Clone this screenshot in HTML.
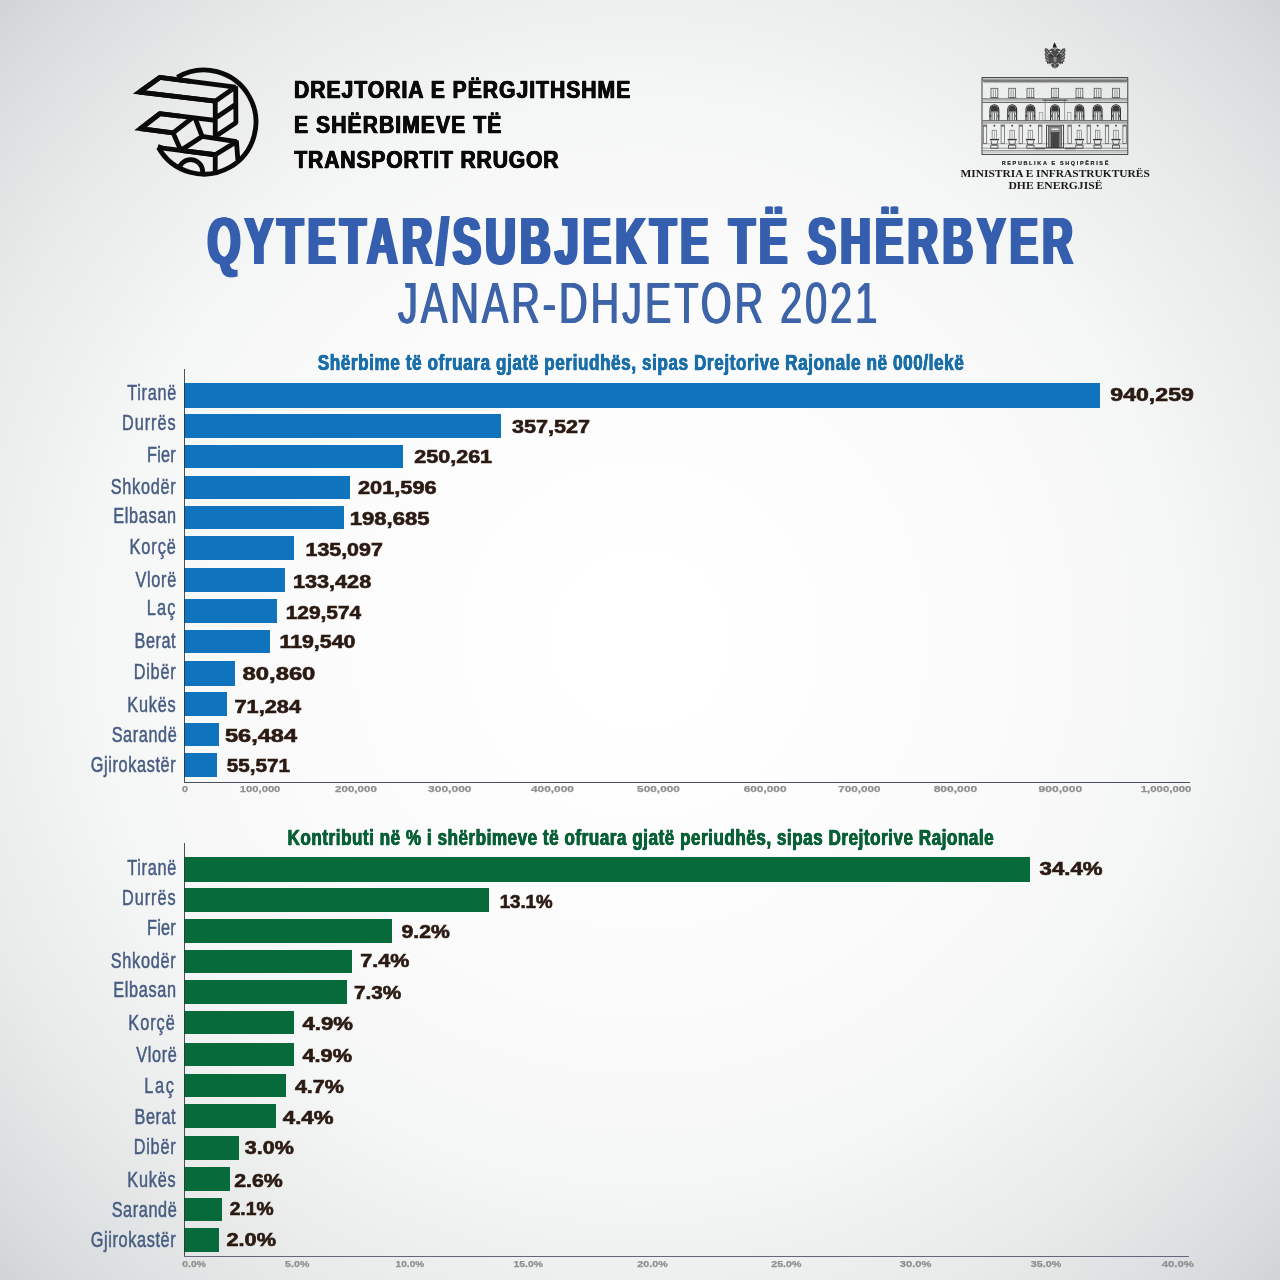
<!DOCTYPE html>
<html lang="sq">
<head>
<meta charset="utf-8">
<title>Qytetar/Subjekte të shërbyer Janar-Dhjetor 2021</title>
<style>
html,body{margin:0;padding:0;}
body{width:1280px;height:1280px;overflow:hidden;background:#f3f4f5;}
#page{position:relative;width:1280px;height:1280px;overflow:hidden;
  background:radial-gradient(circle 905px at 640px 640px, #ffffff 0%, #ffffff 9%, #fdfdfd 22%, #fbfbfb 39%, #f5f6f6 60%, #eeefef 70%, #e9ebeb 78%, #dfe2e2 88%, #d7dbdc 95%, #d0d4d6 100%);}
.t{position:absolute;left:0;white-space:nowrap;line-height:1;transform-origin:0 0;font-family:'Liberation Sans',sans-serif;margin:0;padding:0;}
.hd{font-weight:bold;color:#0a0a0a;}
.rep{font-weight:bold;color:#222222;}
.min{font-weight:bold;color:#1a1a1a;font-family:'Liberation Serif',serif;}
.title{font-weight:bold;color:#355fae;}
.sub{color:#3d63a8;}
.ct1{font-weight:bold;color:#1b6fa9;}
.ct2{font-weight:bold;color:#0a6036;}
.lab{color:#475c82;}
.val{font-weight:bold;color:#2b1a12;}
.tick{font-weight:bold;color:#8f8f8f;}
.bar{position:absolute;}
.b1{background:#1073bd;}
.b2{background:#076a3b;}
.axis{position:absolute;}
.a1v{left:184px;top:369px;width:1px;height:414px;background:rgba(45,50,60,0.85);}
.a1h{left:184px;top:781.9px;width:1006px;height:1.1px;background:#4a4f5a;}
.a2v{left:184px;top:843.4px;width:1px;height:413.6px;background:rgba(45,50,60,0.85);}
.a2h{left:184px;top:1256px;width:1005px;height:1.1px;background:#63667e;}
svg{position:absolute;left:0;top:0;}
.hd{-webkit-text-stroke:0.5px #0a0a0a;text-shadow:0.55px 0 0 #0a0a0a,-0.55px 0 0 #0a0a0a;}
.rep{-webkit-text-stroke:0.2px #222222;}
.title{text-shadow:1.50px 0 0 #355fae,-1.50px 0 0 #355fae,3.00px 0 0 #355fae,-3.00px 0 0 #355fae;}
.sub{text-shadow:1.00px 0 0 #3d63a8,-1.00px 0 0 #3d63a8;}
.ct1{-webkit-text-stroke:0.4px #1b6fa9;text-shadow:0.45px 0 0 #1b6fa9,-0.45px 0 0 #1b6fa9;}
.ct2{-webkit-text-stroke:0.4px #0a6036;text-shadow:0.45px 0 0 #0a6036,-0.45px 0 0 #0a6036;}
.lab{-webkit-text-stroke:0.5px #475c82;}
.val{-webkit-text-stroke:0.6px #2b1a12;}
.tick{-webkit-text-stroke:0.25px #8f8f8f;}

</style>
</head>
<body>
<div id="page">
<svg id="logo" width="1280" height="200" viewBox="0 0 1280 200" aria-label="DPSHTRR logo">
<defs><clipPath id="lc"><circle cx="721" cy="611" r="476"/></clipPath></defs>
<g transform="translate(125,55) scale(0.109375)" fill="none" stroke="#0a0a0a" stroke-width="44" stroke-linejoin="bevel" stroke-linecap="butt">
  <path d="M478 204 A476 476 0 1 1 306 846"/>
  <circle cx="600" cy="1066" r="110" clip-path="url(#lc)"/>
  <path d="M130 340 L318 205 L1010 293 L825 422 Z"/>
  <path d="M825 422 L130 340 L318 205 L600 241" stroke-linejoin="miter" stroke-miterlimit="10"/>
  <path d="M1012 286 L1014 620 L825 745 M825 410 L825 745 M825 578 L1013 450"/>
  <path d="M825 598 L318 537 L140 674 L440 712 L612 577"/>
  <path d="M440 712 L140 674 L318 537 L500 559" stroke-linejoin="miter" stroke-miterlimit="10"/>
  <path d="M440 712 L510 872 L705 745 L641 578"/>
  <path d="M705 745 L1020 792 L825 912 L510 872"/>
  <path d="M825 912 L345 851 L300 838" stroke-linecap="butt"/>
  <path d="M825 900 L825 1078 M1018 780 L1032 960"/>
</g>
</svg>

<svg id="ministry" width="1280" height="200" viewBox="0 0 1280 200" aria-label="Ministria e Infrastrukturës dhe Energjisë">
<g fill="none" stroke="#2e2e2e" stroke-width="0.7">
<rect x="982.0" y="77.6" width="145.8" height="76.8" stroke-width="0.9"/>
<path d="M982.0 79.2H1127.8" stroke-width="0.6"/>
<path d="M982.8 80.9H1127.0" stroke-width="1.5" stroke="#555"/>
<path d="M983.5 82.6H1126.3" stroke-width="0.5" stroke="#777"/>
<path d="M982.5 98.9H1127.3" stroke-width="0.8" stroke="#333"/>
<path d="M982.5 100.6H1127.3" stroke-width="0.5" stroke="#777"/>
<path d="M982.5 102.4H1127.3" stroke-width="0.8" stroke="#333"/>
<path d="M982.5 120.8H1127.3" stroke-width="0.9" stroke="#2a2a2a"/>
<path d="M982.5 122.9H1127.3" stroke-width="0.7" stroke="#444"/>
<path d="M982.5 143.8H1127.3" stroke-width="0.5" stroke="#666"/>
<path d="M982.5 148.2H1127.3" stroke-width="0.6" stroke="#555"/>
<path d="M982.5 150.8H1127.3" stroke-width="0.7" stroke="#444"/>
<path d="M982.5 152.6H1127.3" stroke-width="0.4" stroke="#888"/>
<rect x="991" y="88.3" width="6.8" height="9.2" stroke="#555" stroke-width="0.8"/>
<path d="M993.3 89.2V97 M995.5 89.2V97" stroke="#666" stroke-width="0.6"/>
<path d="M990 97.8H998.8" stroke="#555" stroke-width="0.7"/>
<rect x="1008.8" y="88.3" width="6.8" height="9.2" stroke="#555" stroke-width="0.8"/>
<path d="M1011.1 89.2V97 M1013.3 89.2V97" stroke="#666" stroke-width="0.6"/>
<path d="M1007.8 97.8H1016.6" stroke="#555" stroke-width="0.7"/>
<rect x="1027" y="88.3" width="6.8" height="9.2" stroke="#555" stroke-width="0.8"/>
<path d="M1029.3 89.2V97 M1031.5 89.2V97" stroke="#666" stroke-width="0.6"/>
<path d="M1026 97.8H1034.8" stroke="#555" stroke-width="0.7"/>
<rect x="1051.6" y="88.3" width="6.8" height="9.2" stroke="#555" stroke-width="0.8"/>
<path d="M1053.9 89.2V97 M1056.1 89.2V97" stroke="#666" stroke-width="0.6"/>
<path d="M1050.6 97.8H1059.4" stroke="#555" stroke-width="0.7"/>
<rect x="1076" y="88.3" width="6.8" height="9.2" stroke="#555" stroke-width="0.8"/>
<path d="M1078.3 89.2V97 M1080.5 89.2V97" stroke="#666" stroke-width="0.6"/>
<path d="M1075 97.8H1083.8" stroke="#555" stroke-width="0.7"/>
<rect x="1094.2" y="88.3" width="6.8" height="9.2" stroke="#555" stroke-width="0.8"/>
<path d="M1096.5 89.2V97 M1098.7 89.2V97" stroke="#666" stroke-width="0.6"/>
<path d="M1093.2 97.8H1102" stroke="#555" stroke-width="0.7"/>
<rect x="1112.6" y="88.3" width="6.8" height="9.2" stroke="#555" stroke-width="0.8"/>
<path d="M1114.9 89.2V97 M1117.1 89.2V97" stroke="#666" stroke-width="0.6"/>
<path d="M1111.6 97.8H1120.4" stroke="#555" stroke-width="0.7"/>
<path d="M990 120.3V109.4A4.4 4.6 0 0 1 998.8 109.4V120.3" stroke="#2a2a2a" stroke-width="1.1"/>
<path d="M990.7 111.4V109.4A3.7 3.9 0 0 1 998.1 109.4V111.4Z" fill="#3a3a3a" stroke="none"/>
<path d="M990 112H998.8" stroke="#333" stroke-width="0.6"/>
<path d="M992 112.5V120 M994.4 112.5V120 M996.8 112.5V120" stroke="#333" stroke-width="0.8"/>
<path d="M989.6 116H991.2 M997.6 116H999.2" stroke="#444" stroke-width="2.4"/>
<path d="M1007.8 120.3V109.4A4.4 4.6 0 0 1 1016.6 109.4V120.3" stroke="#2a2a2a" stroke-width="1.1"/>
<path d="M1008.5 111.4V109.4A3.7 3.9 0 0 1 1015.9 109.4V111.4Z" fill="#3a3a3a" stroke="none"/>
<path d="M1007.8 112H1016.6" stroke="#333" stroke-width="0.6"/>
<path d="M1009.8 112.5V120 M1012.2 112.5V120 M1014.6 112.5V120" stroke="#333" stroke-width="0.8"/>
<path d="M1007.4 116H1009 M1015.4 116H1017" stroke="#444" stroke-width="2.4"/>
<path d="M1026 120.3V109.4A4.4 4.6 0 0 1 1034.8 109.4V120.3" stroke="#2a2a2a" stroke-width="1.1"/>
<path d="M1026.7 111.4V109.4A3.7 3.9 0 0 1 1034.1 109.4V111.4Z" fill="#3a3a3a" stroke="none"/>
<path d="M1026 112H1034.8" stroke="#333" stroke-width="0.6"/>
<path d="M1028 112.5V120 M1030.4 112.5V120 M1032.8 112.5V120" stroke="#333" stroke-width="0.8"/>
<path d="M1025.6 116H1027.2 M1033.6 116H1035.2" stroke="#444" stroke-width="2.4"/>
<path d="M1050.6 120.3V109.4A4.4 4.6 0 0 1 1059.4 109.4V120.3" stroke="#2a2a2a" stroke-width="1.1"/>
<path d="M1051.3 111.4V109.4A3.7 3.9 0 0 1 1058.7 109.4V111.4Z" fill="#3a3a3a" stroke="none"/>
<path d="M1050.6 112H1059.4" stroke="#333" stroke-width="0.6"/>
<path d="M1052.6 112.5V120 M1055 112.5V120 M1057.4 112.5V120" stroke="#333" stroke-width="0.8"/>
<path d="M1050.2 116H1051.8 M1058.2 116H1059.8" stroke="#444" stroke-width="2.4"/>
<path d="M1075 120.3V109.4A4.4 4.6 0 0 1 1083.8 109.4V120.3" stroke="#2a2a2a" stroke-width="1.1"/>
<path d="M1075.7 111.4V109.4A3.7 3.9 0 0 1 1083.1 109.4V111.4Z" fill="#3a3a3a" stroke="none"/>
<path d="M1075 112H1083.8" stroke="#333" stroke-width="0.6"/>
<path d="M1077 112.5V120 M1079.4 112.5V120 M1081.8 112.5V120" stroke="#333" stroke-width="0.8"/>
<path d="M1074.6 116H1076.2 M1082.6 116H1084.2" stroke="#444" stroke-width="2.4"/>
<path d="M1093.2 120.3V109.4A4.4 4.6 0 0 1 1102 109.4V120.3" stroke="#2a2a2a" stroke-width="1.1"/>
<path d="M1093.9 111.4V109.4A3.7 3.9 0 0 1 1101.3 109.4V111.4Z" fill="#3a3a3a" stroke="none"/>
<path d="M1093.2 112H1102" stroke="#333" stroke-width="0.6"/>
<path d="M1095.2 112.5V120 M1097.6 112.5V120 M1100 112.5V120" stroke="#333" stroke-width="0.8"/>
<path d="M1092.8 116H1094.4 M1100.8 116H1102.4" stroke="#444" stroke-width="2.4"/>
<path d="M1111.6 120.3V109.4A4.4 4.6 0 0 1 1120.4 109.4V120.3" stroke="#2a2a2a" stroke-width="1.1"/>
<path d="M1112.3 111.4V109.4A3.7 3.9 0 0 1 1119.7 109.4V111.4Z" fill="#3a3a3a" stroke="none"/>
<path d="M1111.6 112H1120.4" stroke="#333" stroke-width="0.6"/>
<path d="M1113.6 112.5V120 M1116 112.5V120 M1118.4 112.5V120" stroke="#333" stroke-width="0.8"/>
<path d="M1111.2 116H1112.8 M1119.2 116H1120.8" stroke="#444" stroke-width="2.4"/>
<path d="M1045.2 98.9V120.6 M1064.6 98.9V120.6" stroke="#666" stroke-width="0.6"/>
<path d="M1042.5 100.2H1067.3" stroke="#444" stroke-width="1"/>
<rect x="1039.2" y="112.6" width="3.6" height="7.8" stroke="#888" stroke-width="0.6"/>
<rect x="1067.4" y="112.6" width="3.6" height="7.8" stroke="#888" stroke-width="0.6"/>
<rect x="983.3" y="126.2" width="3.4" height="17.2" stroke="#555" stroke-width="0.7"/>
<path d="M982.8 125.2H987.2" stroke="#444" stroke-width="1"/>
<rect x="1001.1" y="126.2" width="3.4" height="17.2" stroke="#555" stroke-width="0.7"/>
<path d="M1000.6 125.2H1005" stroke="#444" stroke-width="1"/>
<rect x="1019.1" y="126.2" width="3.4" height="17.2" stroke="#555" stroke-width="0.7"/>
<path d="M1018.6 125.2H1023" stroke="#444" stroke-width="1"/>
<rect x="1038.5" y="126.2" width="3.4" height="17.2" stroke="#555" stroke-width="0.7"/>
<path d="M1038 125.2H1042.4" stroke="#444" stroke-width="1"/>
<rect x="1067.9" y="126.2" width="3.4" height="17.2" stroke="#555" stroke-width="0.7"/>
<path d="M1067.4 125.2H1071.8" stroke="#444" stroke-width="1"/>
<rect x="1087.1" y="126.2" width="3.4" height="17.2" stroke="#555" stroke-width="0.7"/>
<path d="M1086.6 125.2H1091" stroke="#444" stroke-width="1"/>
<rect x="1105.3" y="126.2" width="3.4" height="17.2" stroke="#555" stroke-width="0.7"/>
<path d="M1104.8 125.2H1109.2" stroke="#444" stroke-width="1"/>
<rect x="1122.9" y="126.2" width="3.4" height="17.2" stroke="#555" stroke-width="0.7"/>
<path d="M1122.4 125.2H1126.8" stroke="#444" stroke-width="1"/>
<circle cx="994.4" cy="125.7" r="0.9" fill="#333" stroke="none"/>
<rect x="992.1" y="130.2" width="4.6" height="9" stroke="#666" stroke-width="0.6"/>
<path d="M994.4 130.4V139" stroke="#777" stroke-width="0.5"/>
<path d="M989.8 139.6H999" stroke="#333" stroke-width="1.3"/>
<path d="M991 140.4L991.8 144.6H997L997.8 140.4" stroke="#444" stroke-width="0.8"/>
<rect x="990.8" y="145.2" width="7.2" height="3" stroke="#444" stroke-width="0.8"/>
<circle cx="1012.2" cy="125.7" r="0.9" fill="#333" stroke="none"/>
<rect x="1009.9" y="130.2" width="4.6" height="9" stroke="#666" stroke-width="0.6"/>
<path d="M1012.2 130.4V139" stroke="#777" stroke-width="0.5"/>
<path d="M1007.6 139.6H1016.8" stroke="#333" stroke-width="1.3"/>
<path d="M1008.8 140.4L1009.6 144.6H1014.8L1015.6 140.4" stroke="#444" stroke-width="0.8"/>
<rect x="1008.6" y="145.2" width="7.2" height="3" stroke="#444" stroke-width="0.8"/>
<circle cx="1030.4" cy="125.7" r="0.9" fill="#333" stroke="none"/>
<rect x="1028.1" y="130.2" width="4.6" height="9" stroke="#666" stroke-width="0.6"/>
<path d="M1030.4 130.4V139" stroke="#777" stroke-width="0.5"/>
<path d="M1025.8 139.6H1035" stroke="#333" stroke-width="1.3"/>
<path d="M1027 140.4L1027.8 144.6H1033L1033.8 140.4" stroke="#444" stroke-width="0.8"/>
<rect x="1026.8" y="145.2" width="7.2" height="3" stroke="#444" stroke-width="0.8"/>
<circle cx="1079.4" cy="125.7" r="0.9" fill="#333" stroke="none"/>
<rect x="1077.1" y="130.2" width="4.6" height="9" stroke="#666" stroke-width="0.6"/>
<path d="M1079.4 130.4V139" stroke="#777" stroke-width="0.5"/>
<path d="M1074.8 139.6H1084" stroke="#333" stroke-width="1.3"/>
<path d="M1076 140.4L1076.8 144.6H1082L1082.8 140.4" stroke="#444" stroke-width="0.8"/>
<rect x="1075.8" y="145.2" width="7.2" height="3" stroke="#444" stroke-width="0.8"/>
<circle cx="1097.6" cy="125.7" r="0.9" fill="#333" stroke="none"/>
<rect x="1095.3" y="130.2" width="4.6" height="9" stroke="#666" stroke-width="0.6"/>
<path d="M1097.6 130.4V139" stroke="#777" stroke-width="0.5"/>
<path d="M1093 139.6H1102.2" stroke="#333" stroke-width="1.3"/>
<path d="M1094.2 140.4L1095 144.6H1100.2L1101 140.4" stroke="#444" stroke-width="0.8"/>
<rect x="1094" y="145.2" width="7.2" height="3" stroke="#444" stroke-width="0.8"/>
<circle cx="1116" cy="125.7" r="0.9" fill="#333" stroke="none"/>
<rect x="1113.7" y="130.2" width="4.6" height="9" stroke="#666" stroke-width="0.6"/>
<path d="M1116 130.4V139" stroke="#777" stroke-width="0.5"/>
<path d="M1111.4 139.6H1120.6" stroke="#333" stroke-width="1.3"/>
<path d="M1112.6 140.4L1113.4 144.6H1118.6L1119.4 140.4" stroke="#444" stroke-width="0.8"/>
<rect x="1112.4" y="145.2" width="7.2" height="3" stroke="#444" stroke-width="0.8"/>
<rect x="1046.6" y="125.2" width="17" height="22.6" stroke="#333" stroke-width="0.9"/>
<rect x="1048.6" y="126.4" width="13" height="21.2" fill="#8a8a8a" stroke="#444" stroke-width="0.7"/>
<rect x="1051.4" y="133.6" width="7.4" height="14" fill="#555" stroke="#333" stroke-width="0.7"/>
<path d="M1050.4 132.6H1059.8 M1055.1 134V147.4 M1053.2 134V147.4 M1057 134V147.4" stroke="#222" stroke-width="0.6"/>
<path d="M1051.6 129.2H1058.6" stroke="#eee" stroke-width="1.4"/>
<path d="M1034.6 148.4H1045.6 M1064.6 148.4H1075.6" stroke="#555" stroke-width="1.6"/>
</g>
<g transform="translate(1035,35) scale(0.03125)">
<path d="M628 232 L705 400 L570 408 L590 300 Z" fill="#1c1c1c"/>
<path d="M640 425 L600 440 L560 432 L505 448 L452 482 L478 508 L522 506 L540 545 L500 560 L440 480 L385 435 L322 422 L302 520 L334 542 L302 640 L338 656 L312 750 L352 762 L338 850 L384 852 L384 930 L442 902 L472 942 L522 884 L542 902 L505 978 L545 1000 L565 1058 L612 1032 L640 1086 L668 1032 L715 1058 L735 1000 L775 978 L738 902 L758 884 L808 942 L838 902 L896 930 L896 852 L942 850 L928 762 L968 750 L942 656 L978 640 L946 542 L978 520 L958 422 L895 435 L840 480 L780 560 L740 545 L758 506 L802 508 L828 482 L775 448 L720 432 L680 440 L640 425 Z" fill="#4a4a4a"/>
<g fill="none" stroke="#d9dcdd" stroke-width="22" stroke-linecap="round">
<path d="M365 500 L420 560 M350 600 L410 650 M355 700 L420 745 M375 800 L440 830 M915 500 L860 560 M930 600 L870 650 M925 700 L860 745 M905 800 L840 830"/>
<path d="M520 600 L575 640 M760 600 L705 640 M470 590 L430 600 M810 590 L850 600"/>
<path d="M560 900 L610 930 M720 900 L670 930 M640 940 L640 1020" stroke-width="16"/>
</g>
<path d="M590 700 H690 V790 Q690 850 640 880 Q590 850 590 790 Z" fill="#8a8a8a"/>
<circle cx="640" cy="470" r="22" fill="#e8eaeb"/>
<path d="M560 690 L500 620 M720 690 L780 620" stroke="#222" stroke-width="40" fill="none"/>
</g>
</svg>
<div class="bar b1" style="left:184.2px;top:382.8px;width:915.55px;height:24.8px"></div>
<div class="bar b1" style="left:184.2px;top:413.75px;width:317.05px;height:24.35px"></div>
<div class="bar b1" style="left:184.2px;top:444.75px;width:218.6px;height:23.35px"></div>
<div class="bar b1" style="left:184.2px;top:475.6px;width:165.8px;height:23.15px"></div>
<div class="bar b1" style="left:184.2px;top:505.5px;width:159.7px;height:23.9px"></div>
<div class="bar b1" style="left:184.2px;top:536.1px;width:109.7px;height:24px"></div>
<div class="bar b1" style="left:184.2px;top:568.2px;width:101.1px;height:24px"></div>
<div class="bar b1" style="left:184.2px;top:599.1px;width:93px;height:23.5px"></div>
<div class="bar b1" style="left:184.2px;top:629.7px;width:85.5px;height:23.8px"></div>
<div class="bar b1" style="left:184.2px;top:661.4px;width:50.5px;height:24.2px"></div>
<div class="bar b1" style="left:184.2px;top:692.25px;width:42.7px;height:23.75px"></div>
<div class="bar b1" style="left:184.2px;top:723.1px;width:35.1px;height:23.15px"></div>
<div class="bar b1" style="left:184.2px;top:753.1px;width:32.8px;height:24.4px"></div>
<div class="bar b2" style="left:184.2px;top:857.4px;width:846.1px;height:24.4px"></div>
<div class="bar b2" style="left:184.2px;top:888.2px;width:304.9px;height:24.05px"></div>
<div class="bar b2" style="left:184.2px;top:918.9px;width:208px;height:24px"></div>
<div class="bar b2" style="left:184.2px;top:949.6px;width:167.8px;height:23.65px"></div>
<div class="bar b2" style="left:184.2px;top:980.1px;width:162.7px;height:23.6px"></div>
<div class="bar b2" style="left:184.2px;top:1011px;width:110.3px;height:22.75px"></div>
<div class="bar b2" style="left:184.2px;top:1042.75px;width:109.55px;height:23.5px"></div>
<div class="bar b2" style="left:184.2px;top:1073.5px;width:101.4px;height:23.4px"></div>
<div class="bar b2" style="left:184.2px;top:1103.75px;width:91.6px;height:23.75px"></div>
<div class="bar b2" style="left:184.2px;top:1136px;width:55.2px;height:24px"></div>
<div class="bar b2" style="left:184.2px;top:1166.5px;width:45.5px;height:24.1px"></div>
<div class="bar b2" style="left:184.2px;top:1197.5px;width:37.7px;height:23.1px"></div>
<div class="bar b2" style="left:184.2px;top:1227.75px;width:34.55px;height:23.75px"></div>
<div class="axis a1v"></div><div class="axis a1h"></div>
<div class="axis a2v"></div><div class="axis a2h"></div>
<div class="t hd" style="top:78px;font-size:24.3px;transform:translateX(293.96px) scaleX(0.8700);letter-spacing:1.134px">DREJTORIA E PËRGJITHSHME</div>
<div class="t hd" style="top:113px;font-size:24.3px;transform:translateX(293.96px) scaleX(0.8700);letter-spacing:1.204px">E SHËRBIMEVE TË</div>
<div class="t hd" style="top:148px;font-size:24.3px;transform:translateX(294.36px) scaleX(0.8700);letter-spacing:0.954px">TRANSPORTIT RRUGOR</div>
<div class="t rep" style="top:161px;font-size:5.47px;transform:translateX(1001.68px) scaleX(1.0000);letter-spacing:1.658px">REPUBLIKA E SHQIPËRISË</div>
<div class="t min" style="top:169px;font-size:10.38px;transform:translateX(960.58px) scaleX(1.1011)">MINISTRIA E INFRASTRUKTURËS</div>
<div class="t min" style="top:181px;font-size:10.08px;transform:translateX(1008.46px) scaleX(1.1527)">DHE ENERGJISË</div>
<div class="t title" style="top:208px;font-size:66.76px;transform:translateX(207.7px) scaleX(0.6300);letter-spacing:7.083px">QYTETAR/SUBJEKTE TË SHËRBYER</div>
<div class="t sub" style="top:274px;font-size:58.26px;transform:translateX(398.04px) scaleX(0.6800);letter-spacing:4.385px">JANAR-DHJETOR 2021</div>
<div class="t ct1" style="top:353px;font-size:21.29px;transform:translateX(317.83px) scaleX(0.8000);letter-spacing:0.788px">Shërbime të ofruara gjatë periudhës, sipas Drejtorive Rajonale në 000/lekë</div>
<div class="t ct2" style="top:828px;font-size:21.29px;transform:translateX(287.61px) scaleX(0.8000);letter-spacing:0.690px">Kontributi në % i shërbimeve të ofruara gjatë periudhës, sipas Drejtorive Rajonale</div>
<div class="t lab" style="top:383px;font-size:21.45px;transform:translateX(127.33px) scaleX(0.7600);letter-spacing:0.865px">Tiranë</div>
<div class="t lab" style="top:413px;font-size:21.45px;transform:translateX(121.92px) scaleX(0.7600);letter-spacing:1.268px">Durrës</div>
<div class="t lab" style="top:445px;font-size:21.45px;transform:translateX(146.94px) scaleX(0.7600);letter-spacing:0.313px">Fier</div>
<div class="t lab" style="top:477px;font-size:21.45px;transform:translateX(110.68px) scaleX(0.7600);letter-spacing:0.948px">Shkodër</div>
<div class="t lab" style="top:506px;font-size:21.45px;transform:translateX(113.34px) scaleX(0.7600);letter-spacing:0.845px">Elbasan</div>
<div class="t lab" style="top:537px;font-size:21.45px;transform:translateX(129.57px) scaleX(0.7600);letter-spacing:1.199px">Korçë</div>
<div class="t lab" style="top:570px;font-size:21.45px;transform:translateX(135.61px) scaleX(0.7600);letter-spacing:0.841px">Vlorë</div>
<div class="t lab" style="top:598px;font-size:21.45px;transform:translateX(146.69px) scaleX(0.7600);letter-spacing:1.640px">Laç</div>
<div class="t lab" style="top:631px;font-size:21.45px;transform:translateX(134.54px) scaleX(0.7600);letter-spacing:0.673px">Berat</div>
<div class="t lab" style="top:662px;font-size:21.45px;transform:translateX(133.69px) scaleX(0.7600);letter-spacing:1.013px">Dibër</div>
<div class="t lab" style="top:695px;font-size:21.45px;transform:translateX(127.3px) scaleX(0.7600);letter-spacing:1.003px">Kukës</div>
<div class="t lab" style="top:725px;font-size:21.45px;transform:translateX(111.68px) scaleX(0.7600);letter-spacing:0.751px">Sarandë</div>
<div class="t lab" style="top:755px;font-size:21.45px;transform:translateX(90.64px) scaleX(0.7600);letter-spacing:0.825px">Gjirokastër</div>
<div class="t val" style="top:387px;font-size:17.7px;transform:translateX(1110.29px) scaleX(1.3067)">940,259</div>
<div class="t val" style="top:419px;font-size:17.7px;transform:translateX(512.07px) scaleX(1.2189)">357,527</div>
<div class="t val" style="top:449px;font-size:17.7px;transform:translateX(414.22px) scaleX(1.2181)">250,261</div>
<div class="t val" style="top:480px;font-size:17.7px;transform:translateX(357.93px) scaleX(1.2305)">201,596</div>
<div class="t val" style="top:511px;font-size:17.7px;transform:translateX(349.68px) scaleX(1.2480)">198,685</div>
<div class="t val" style="top:542px;font-size:17.7px;transform:translateX(305.52px) scaleX(1.2082)">135,097</div>
<div class="t val" style="top:574px;font-size:17.7px;transform:translateX(292.89px) scaleX(1.2245)">133,428</div>
<div class="t val" style="top:605px;font-size:17.7px;transform:translateX(285.67px) scaleX(1.1802)">129,574</div>
<div class="t val" style="top:634px;font-size:17.7px;transform:translateX(279.45px) scaleX(1.2055)">119,540</div>
<div class="t val" style="top:666px;font-size:17.7px;transform:translateX(242.53px) scaleX(1.3463)">80,860</div>
<div class="t val" style="top:699px;font-size:17.7px;transform:translateX(234.52px) scaleX(1.2298)">71,284</div>
<div class="t val" style="top:728px;font-size:17.7px;transform:translateX(224.92px) scaleX(1.3325)">56,484</div>
<div class="t val" style="top:758px;font-size:17.7px;transform:translateX(226.83px) scaleX(1.1657)">55,571</div>
<div class="t tick" style="top:784px;font-size:9.42px;transform:translateX(182.02px) scaleX(1.1383)">0</div>
<div class="t tick" style="top:784px;font-size:9.42px;transform:translateX(239.79px) scaleX(1.1934)">100,000</div>
<div class="t tick" style="top:784px;font-size:9.42px;transform:translateX(335.02px) scaleX(1.2303)">200,000</div>
<div class="t tick" style="top:784px;font-size:9.42px;transform:translateX(428.07px) scaleX(1.2775)">300,000</div>
<div class="t tick" style="top:784px;font-size:9.42px;transform:translateX(530.95px) scaleX(1.2623)">400,000</div>
<div class="t tick" style="top:784px;font-size:9.42px;transform:translateX(637.1px) scaleX(1.2583)">500,000</div>
<div class="t tick" style="top:784px;font-size:9.42px;transform:translateX(743.66px) scaleX(1.2601)">600,000</div>
<div class="t tick" style="top:784px;font-size:9.42px;transform:translateX(838.15px) scaleX(1.2431)">700,000</div>
<div class="t tick" style="top:784px;font-size:9.42px;transform:translateX(933.63px) scaleX(1.2775)">800,000</div>
<div class="t tick" style="top:784px;font-size:9.42px;transform:translateX(1038.54px) scaleX(1.2808)">900,000</div>
<div class="t tick" style="top:784px;font-size:9.42px;transform:translateX(1140.78px) scaleX(1.2085)">1,000,000</div>
<div class="t lab" style="top:858px;font-size:21.45px;transform:translateX(127.33px) scaleX(0.7600);letter-spacing:0.865px">Tiranë</div>
<div class="t lab" style="top:888px;font-size:21.45px;transform:translateX(121.92px) scaleX(0.7600);letter-spacing:1.268px">Durrës</div>
<div class="t lab" style="top:918px;font-size:21.45px;transform:translateX(146.94px) scaleX(0.7600);letter-spacing:0.313px">Fier</div>
<div class="t lab" style="top:951px;font-size:21.45px;transform:translateX(110.68px) scaleX(0.7600);letter-spacing:0.948px">Shkodër</div>
<div class="t lab" style="top:980px;font-size:21.45px;transform:translateX(113.34px) scaleX(0.7600);letter-spacing:0.845px">Elbasan</div>
<div class="t lab" style="top:1013px;font-size:21.45px;transform:translateX(128.34px) scaleX(0.7600);letter-spacing:1.254px">Korçë</div>
<div class="t lab" style="top:1045px;font-size:21.45px;transform:translateX(136.31px) scaleX(0.7600);letter-spacing:0.781px">Vlorë</div>
<div class="t lab" style="top:1076px;font-size:21.45px;transform:translateX(144.24px) scaleX(0.7600);letter-spacing:2.251px">Laç</div>
<div class="t lab" style="top:1107px;font-size:21.45px;transform:translateX(134.54px) scaleX(0.7600);letter-spacing:0.673px">Berat</div>
<div class="t lab" style="top:1137px;font-size:21.45px;transform:translateX(133.69px) scaleX(0.7600);letter-spacing:1.013px">Dibër</div>
<div class="t lab" style="top:1170px;font-size:21.45px;transform:translateX(127.3px) scaleX(0.7600);letter-spacing:1.003px">Kukës</div>
<div class="t lab" style="top:1200px;font-size:21.45px;transform:translateX(111.68px) scaleX(0.7600);letter-spacing:0.751px">Sarandë</div>
<div class="t lab" style="top:1230px;font-size:21.45px;transform:translateX(90.64px) scaleX(0.7600);letter-spacing:0.825px">Gjirokastër</div>
<div class="t val" style="top:861px;font-size:17.7px;transform:translateX(1039.59px) scaleX(1.2567)">34.4%</div>
<div class="t val" style="top:894px;font-size:17.7px;transform:translateX(499.69px) scaleX(1.0544)">13.1%</div>
<div class="t val" style="top:924px;font-size:17.7px;transform:translateX(401.48px) scaleX(1.1980)">9.2%</div>
<div class="t val" style="top:953px;font-size:17.7px;transform:translateX(360.35px) scaleX(1.2155)">7.4%</div>
<div class="t val" style="top:985px;font-size:17.7px;transform:translateX(354.04px) scaleX(1.1717)">7.3%</div>
<div class="t val" style="top:1016px;font-size:17.7px;transform:translateX(302.47px) scaleX(1.2510)">4.9%</div>
<div class="t val" style="top:1048px;font-size:17.7px;transform:translateX(302.46px) scaleX(1.2287)">4.9%</div>
<div class="t val" style="top:1079px;font-size:17.7px;transform:translateX(294.9px) scaleX(1.2164)">4.7%</div>
<div class="t val" style="top:1110px;font-size:17.7px;transform:translateX(282.79px) scaleX(1.2563)">4.4%</div>
<div class="t val" style="top:1140px;font-size:17.7px;transform:translateX(244.77px) scaleX(1.2147)">3.0%</div>
<div class="t val" style="top:1173px;font-size:17.7px;transform:translateX(234.2px) scaleX(1.2060)">2.6%</div>
<div class="t val" style="top:1201px;font-size:17.7px;transform:translateX(229.65px) scaleX(1.0883)">2.1%</div>
<div class="t val" style="top:1232px;font-size:17.7px;transform:translateX(226.51px) scaleX(1.2274)">2.0%</div>
<div class="t tick" style="top:1259px;font-size:9.42px;transform:translateX(182.26px) scaleX(1.1042)">0.0%</div>
<div class="t tick" style="top:1259px;font-size:9.42px;transform:translateX(285.12px) scaleX(1.1298)">5.0%</div>
<div class="t tick" style="top:1259px;font-size:9.42px;transform:translateX(395.57px) scaleX(1.0751)">10.0%</div>
<div class="t tick" style="top:1259px;font-size:9.42px;transform:translateX(513.54px) scaleX(1.0992)">15.0%</div>
<div class="t tick" style="top:1259px;font-size:9.42px;transform:translateX(637.2px) scaleX(1.1457)">20.0%</div>
<div class="t tick" style="top:1259px;font-size:9.42px;transform:translateX(771.26px) scaleX(1.1287)">25.0%</div>
<div class="t tick" style="top:1259px;font-size:9.42px;transform:translateX(899.79px) scaleX(1.1817)">30.0%</div>
<div class="t tick" style="top:1259px;font-size:9.42px;transform:translateX(1030.81px) scaleX(1.1459)">35.0%</div>
<div class="t tick" style="top:1259px;font-size:9.42px;transform:translateX(1161.63px) scaleX(1.2079)">40.0%</div>
</div>
</body>
</html>
